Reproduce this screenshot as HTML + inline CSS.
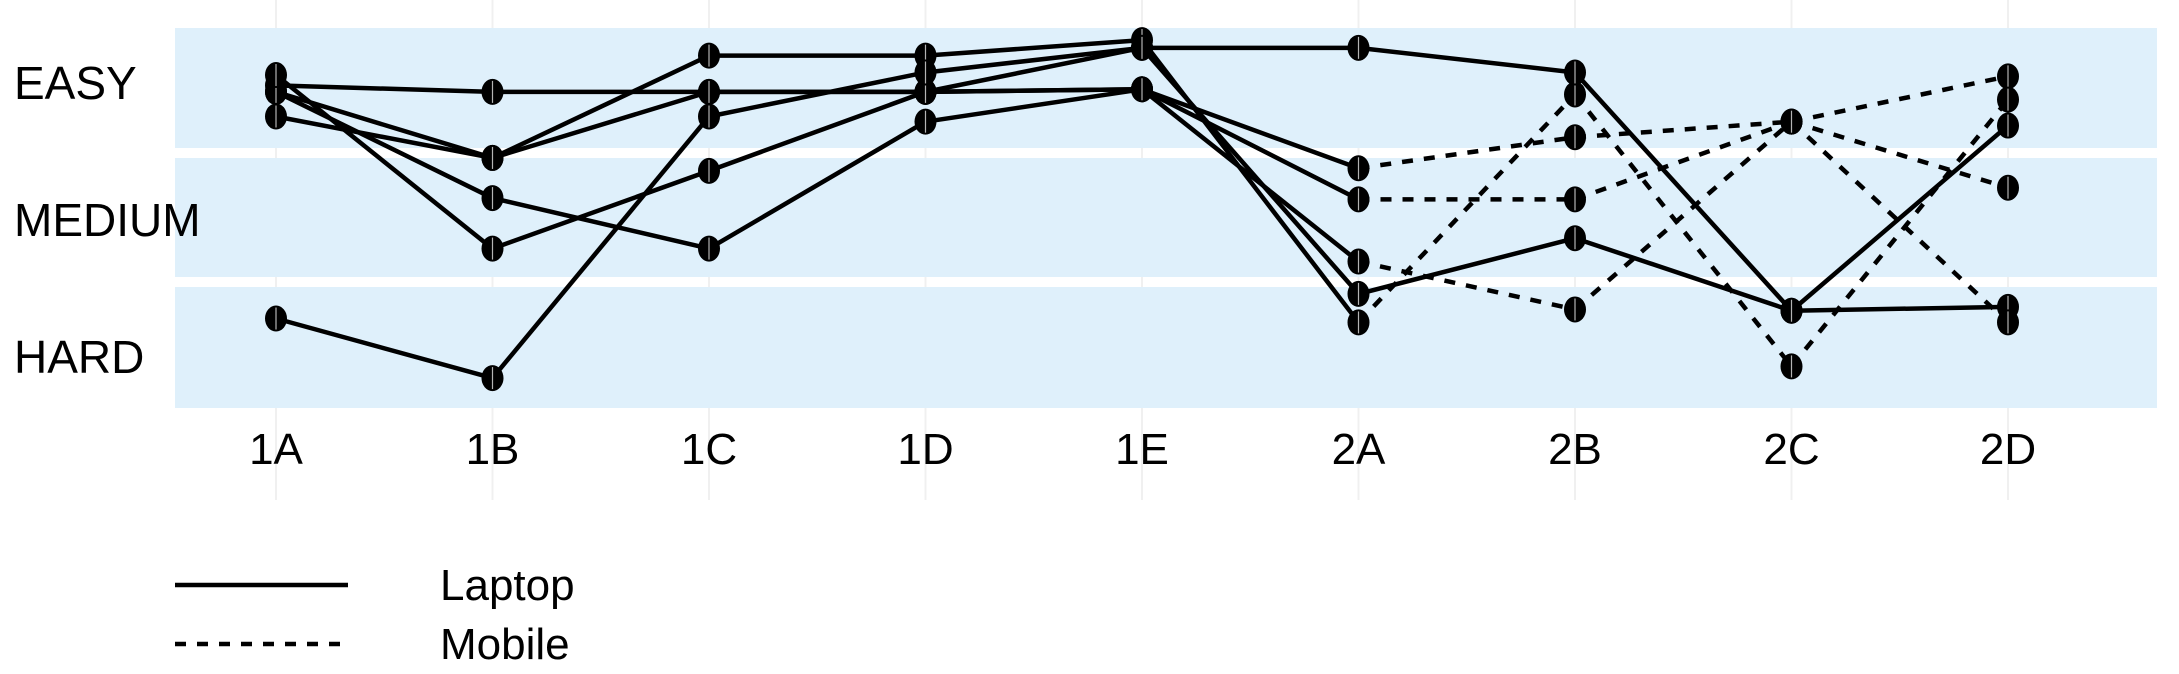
<!DOCTYPE html>
<html><head><meta charset="utf-8"><style>
html,body{margin:0;padding:0;background:#fff;}
svg{display:block;font-family:"Liberation Sans",sans-serif;}
</style></head><body>
<svg id="chart" width="2179" height="674" viewBox="0 0 2179 674" xmlns="http://www.w3.org/2000/svg">
<g id="grid"></g>
<g id="bands">
<rect x="175" y="28" width="1982" height="120" fill="#dff0fb"/>
<rect x="175" y="158" width="1982" height="119" fill="#dff0fb"/>
<rect x="175" y="287" width="1982" height="121" fill="#dff0fb"/>
</g>
<g font-size="46" fill="#000">
<text x="14" y="99">EASY</text>
<text x="14" y="236">MEDIUM</text>
<text x="14" y="373">HARD</text>
</g>
<g id="xlabels" font-size="44" fill="#000" text-anchor="middle"></g>
<g id="lines"></g>
<g id="points"></g>
<g>
<line x1="175" y1="585" x2="348" y2="585" stroke="#000" stroke-width="4.5"/>
<text x="440" y="600" font-size="44">Laptop</text>
<line x1="175" y1="644" x2="348" y2="644" stroke="#000" stroke-width="4.5" stroke-dasharray="11,11"/>
<text x="440" y="659" font-size="44">Mobile</text>
</g>
</svg>
<script>
const categories = ["1A","1B","1C","1D","1E","2A","2B","2C","2D"];
// difficulty: 1 = EASY, 2 = MEDIUM, 3 = HARD
const seriesA = [0.98,1.03,1.03,1.03,1.01,1.62,1.38,1.26,0.91];
const seriesB = [1.22,1.54,0.75,0.75,0.63,2.81,1.05,3.15,1.09];
const seriesC = [1.03,1.54,1.03,1.03,0.69,2.59,2.16,2.72,2.69];
const seriesD = [1.03,1.85,2.24,1.26,1.01,1.86,1.86,1.26,1.77];
const seriesE = [0.90,2.24,1.64,1.03,1.01,2.34,2.71,1.26,2.81];
const seriesF = [2.78,3.24,1.22,0.88,0.69,0.69,0.88,2.72,1.29];
const session2Device = ["mobile","mobile","laptop","mobile","mobile","laptop"];
const allSeries = [seriesA,seriesB,seriesC,seriesD,seriesE,seriesF];

const NS = "http://www.w3.org/2000/svg";
function xScale(i){ return 276 + i*216.5; }
function yScale(v){ return 88 + (v-1)*129.5; }

const grid = document.getElementById("grid");
const xl = document.getElementById("xlabels");
categories.forEach((c,i)=>{
  const g = document.createElementNS(NS,"line");
  
  
  g.setAttribute("x1",xScale(i)); g.setAttribute("x2",xScale(i));
  g.setAttribute("y1",0); g.setAttribute("y2",500);
  g.setAttribute("stroke","#f0f0f0"); g.setAttribute("stroke-width","2");
  grid.appendChild(g);
  const t = document.createElementNS(NS,"text");
  
  
  t.setAttribute("x",xScale(i)); t.setAttribute("y",464);
  t.textContent = c;
  xl.appendChild(t);
});

const lines = document.getElementById("lines");
const pts = document.getElementById("points");
allSeries.forEach((s,si)=>{
  for(let i=0;i<s.length-1;i++){
    const l = document.createElementNS(NS,"line");
    
    
    l.setAttribute("x1",xScale(i)); l.setAttribute("y1",yScale(s[i]));
    l.setAttribute("x2",xScale(i+1)); l.setAttribute("y2",yScale(s[i+1]));
    l.setAttribute("stroke","#000"); l.setAttribute("stroke-width","4.5");
    if(i>=5 && session2Device[si]==="mobile") l.setAttribute("stroke-dasharray","11,11");
    lines.appendChild(l);
  }
  s.forEach((v,i)=>{
    const c = document.createElementNS(NS,"ellipse");
    
    
    c.setAttribute("cx",xScale(i)); c.setAttribute("cy",yScale(v));
    c.setAttribute("rx",11); c.setAttribute("ry",13);
    c.setAttribute("fill","#000");
    pts.appendChild(c);
    const w = document.createElementNS(NS,"line");
    
    
    w.setAttribute("x1",xScale(i)); w.setAttribute("x2",xScale(i));
    w.setAttribute("y1",yScale(v)-11); w.setAttribute("y2",yScale(v)+11);
    w.setAttribute("stroke","#fff"); w.setAttribute("stroke-width","1.2"); w.setAttribute("opacity","0.7");
    pts.appendChild(w);
  });
});
</script>
</body></html>
